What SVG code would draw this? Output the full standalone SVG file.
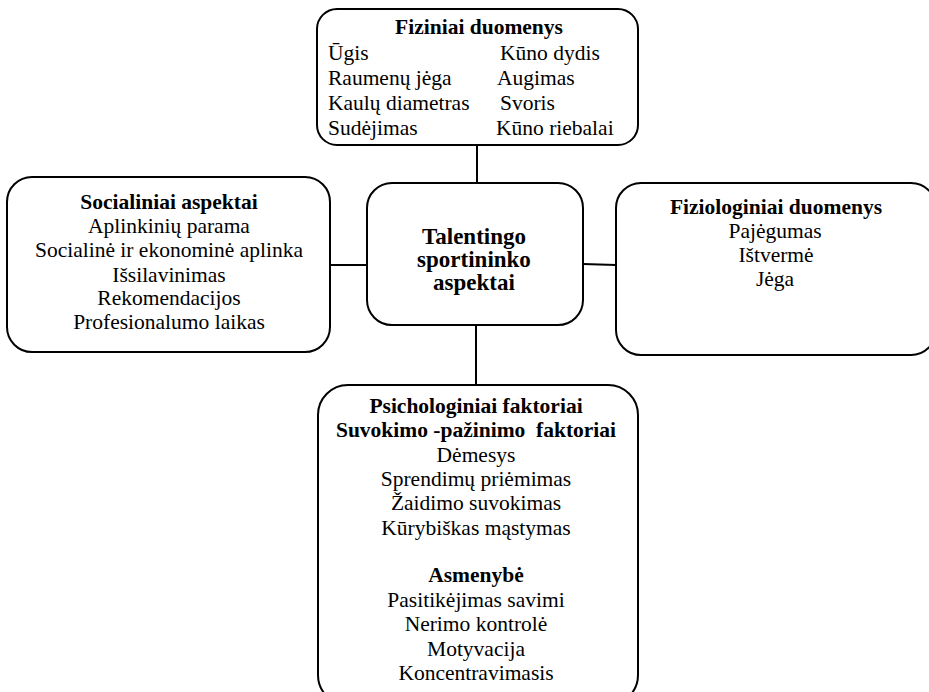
<svg xmlns="http://www.w3.org/2000/svg" width="929" height="692" viewBox="0 0 929 692">
  <style>
    .box { fill: #ffffff; stroke: #000000; stroke-width: 2; }
    .link { stroke: #000000; stroke-width: 2; fill: none; }
    text { font-family: "Liberation Serif", "Times New Roman", "DejaVu Serif", serif; font-size: 21.5px; fill: #000000; }
    .b { font-weight: bold; }
    .c { text-anchor: middle; }
    .hub { font-size: 23px; font-weight: bold; text-anchor: middle; }
  </style>
  <rect width="929" height="692" fill="#ffffff"/>

  <g id="connectors">
    <line class="link" x1="477" y1="145" x2="477" y2="183"/>
    <line class="link" x1="330" y1="265" x2="367" y2="265"/>
    <line class="link" x1="583" y1="264" x2="616" y2="265"/>
    <line class="link" x1="476" y1="325" x2="476" y2="385"/>
  </g>

  <g id="physical">
    <rect class="box" x="317" y="9" width="321" height="136" rx="20"/>
    <text class="b c" x="479" y="34">Fiziniai duomenys</text>
    <text x="328" y="60">Ūgis</text>
    <text x="328" y="85">Raumenų jėga</text>
    <text x="328" y="110">Kaulų diametras</text>
    <text x="328" y="135">Sudėjimas</text>
    <text x="500" y="60">Kūno dydis</text>
    <text x="497" y="85">Augimas</text>
    <text x="500" y="110">Svoris</text>
    <text x="496" y="135">Kūno riebalai</text>
  </g>

  <g id="social">
    <rect class="box" x="7" y="177" width="323" height="175" rx="25"/>
    <text class="b c" x="169" y="209">Socialiniai aspektai</text>
    <text class="c" x="169" y="233">Aplinkinių parama</text>
    <text class="c" x="169" y="257">Socialinė ir ekonominė aplinka</text>
    <text class="c" x="169" y="282">Išsilavinimas</text>
    <text class="c" x="169" y="305">Rekomendacijos</text>
    <text class="c" x="169" y="329">Profesionalumo laikas</text>
  </g>

  <g id="hub">
    <rect class="box" x="367" y="183" width="216" height="142" rx="25"/>
    <text class="hub" x="474" y="244">Talentingo</text>
    <text class="hub" x="474" y="267">sportininko</text>
    <text class="hub" x="474" y="290">aspektai</text>
  </g>

  <g id="physiological">
    <rect class="box" x="616" y="183" width="320" height="172" rx="25"/>
    <text class="b c" x="776" y="214">Fiziologiniai duomenys</text>
    <text class="c" x="775" y="238">Pajėgumas</text>
    <text class="c" x="776" y="262">Ištvermė</text>
    <text class="c" x="775" y="286">Jėga</text>
  </g>

  <g id="psychological">
    <rect class="box" x="318" y="385" width="320" height="320" rx="30"/>
    <text class="b c" x="476" y="413">Psichologiniai faktoriai</text>
    <text class="b c" x="476" y="437">Suvokimo -pažinimo&#160; faktoriai</text>
    <text class="c" x="476" y="462">Dėmesys</text>
    <text class="c" x="476" y="486">Sprendimų priėmimas</text>
    <text class="c" x="476" y="510">Žaidimo suvokimas</text>
    <text class="c" x="476" y="535">Kūrybiškas mąstymas</text>
    <text class="b c" x="476" y="582">Asmenybė</text>
    <text class="c" x="476" y="607">Pasitikėjimas savimi</text>
    <text class="c" x="476" y="631">Nerimo kontrolė</text>
    <text class="c" x="476" y="656">Motyvacija</text>
    <text class="c" x="476" y="680">Koncentravimasis</text>
  </g>
</svg>
